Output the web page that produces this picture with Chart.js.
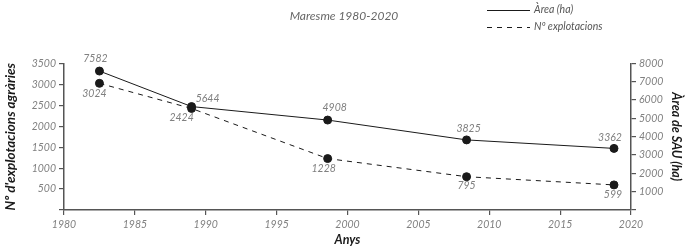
<!DOCTYPE html>
<html>
<head>
<meta charset="utf-8">
<script src="https://cdn.jsdelivr.net/npm/chart.js@4/dist/chart.umd.min.js"></script>
<style>
  html, body { margin: 0; padding: 0; background: #fff; }
  #wrap { width: 688px; height: 249px; }
</style>
</head>
<body>
<div id="wrap"><canvas id="chart"></canvas></div>
<script>
"use strict"

// data
const years = [1982.5, 1989, 1998.6, 2008.4, 2018.8];
const area = [7582, 5644, 4908, 3825, 3362];          // Àrea (ha), right axis
const explotacions = [3024, 2424, 1228, 795, 599];     // Nº explotacions, left axis
const xTicks = [1980, 1985, 1990, 1995, 2000, 2005, 2010, 2015, 2020];
const leftTicks = [500, 1000, 1500, 2000, 2500, 3000, 3500];
const rightTicks = [1000, 2000, 3000, 4000, 5000, 6000, 7000, 8000];

const FONT = "Lato, 'Open Sans', sans-serif";
const INK = "#1a1a1a";
const GREY = "#808080";

// where each value label sits relative to its point
const labelOffsets = [
  [[-4, -12], [16, -8], [7, -12], [2, -11], [-4, -11]],
  [[-5, 10], [-10, 9], [-4, 10], [0, 9], [-1, 10]]
];

const valueLabels = {
  id: "valueLabels",
  afterDatasetsDraw(chart) {
    const ctx = chart.ctx;
    ctx.save();
    ctx.font = "italic 10.5px " + FONT;
    ctx.fillStyle = GREY;
    ctx.textAlign = "center";
    ctx.textBaseline = "middle";
    chart.data.datasets.forEach((ds, d) => {
      chart.getDatasetMeta(d).data.forEach((pt, i) => {
        const off = labelOffsets[d][i];
        ctx.fillText(String(ds.data[i].y), pt.x + off[0], pt.y + off[1]);
      });
    });
    ctx.restore();
  }
};

const lineLegend = {
  id: "lineLegend",
  afterDraw(chart) {
    const ctx = chart.ctx;
    ctx.save();
    ctx.font = "italic 10.5px " + FONT;
    ctx.fillStyle = "#555";
    ctx.textBaseline = "middle";
    chart.data.datasets.forEach((ds, d) => {
      const y = 10 + d * 17;
      ctx.strokeStyle = INK;
      ctx.lineWidth = 1;
      ctx.setLineDash(ds.borderDash || []);
      ctx.beginPath();
      ctx.moveTo(487, y + 0.5);
      ctx.lineTo(530, y + 0.5);
      ctx.stroke();
      ctx.fillText(ds.label, 534, y);
    });
    ctx.restore();
  }
};

const tickFont = { family: FONT, size: 10.5, style: "italic" };
const axisGrid = { drawOnChartArea: false, drawTicks: true, tickLength: 5, color: "#555", lineWidth: 1.2 };
const axisBorder = { display: true, color: "#555", width: 1.5 };

new Chart(document.getElementById("chart"), {
  type: "line",
  data: {
    datasets: [
      {
        label: "Àrea (ha)",
        data: years.map((x, i) => ({ x: x, y: area[i] })),
        yAxisID: "y1",
        borderColor: INK,
        borderWidth: 1,
        pointBackgroundColor: INK,
        pointBorderColor: INK,
        pointRadius: 4,
        tension: 0
      },
      {
        label: "Nº explotacions",
        data: years.map((x, i) => ({ x: x, y: explotacions[i] })),
        yAxisID: "y",
        borderColor: INK,
        borderWidth: 1,
        borderDash: [5, 5],
        pointBackgroundColor: INK,
        pointBorderColor: INK,
        pointRadius: 4,
        tension: 0
      }
    ]
  },
  options: {
    responsive: true,
    maintainAspectRatio: false,
    animation: false,
    layout: { padding: 0 },
    plugins: {
      legend: { display: false },
      tooltip: { enabled: false },
      title: {
        display: true,
        text: "Maresme 1980-2020",
        color: "#666",
        font: { family: FONT, size: 12, style: "italic", weight: "normal" },
        padding: { top: 9, bottom: 40 }
      }
    },
    scales: {
      x: {
        type: "linear",
        min: 1980,
        max: 2020,
        afterBuildTicks: s => { s.ticks = xTicks.map(v => ({ value: v })); },
        afterFit: s => { s.height = 39; },
        ticks: { color: GREY, font: tickFont, padding: 3, maxRotation: 0, callback: v => String(v) },
        grid: axisGrid,
        border: axisBorder,
        title: { display: true, text: "Anys", color: INK, font: { family: FONT, size: 12.5, style: "italic", weight: "bold" }, padding: { top: 2, bottom: 2 } }
      },
      y: {
        position: "left",
        min: 0,
        max: 3500,
        afterBuildTicks: s => { s.ticks = [0].concat(leftTicks).map(v => ({ value: v })); },
        afterFit: s => { s.width = 64; },
        ticks: { color: GREY, font: tickFont, padding: 3, callback: v => v === 0 ? "" : String(v) },
        grid: axisGrid,
        border: axisBorder,
        title: { display: true, text: "Nº d'explotacions agràries", color: INK, font: { family: FONT, size: 13.5, style: "italic", weight: "bold" }, padding: 3 }
      },
      y1: {
        position: "right",
        min: 0,
        max: 8000,
        afterBuildTicks: s => { s.ticks = [0].concat(rightTicks).map(v => ({ value: v })); },
        afterFit: s => { s.width = 57; },
        ticks: { color: GREY, font: tickFont, padding: 3, callback: v => v === 0 ? "" : String(v) },
        grid: axisGrid,
        border: axisBorder,
        title: { display: true, text: "Àrea de SAU (ha)", color: INK, font: { family: FONT, size: 12.5, style: "italic", weight: "bold" }, padding: 4 }
      }
    }
  },
  plugins: [valueLabels, lineLegend]
});
</script>
</body>
</html>
